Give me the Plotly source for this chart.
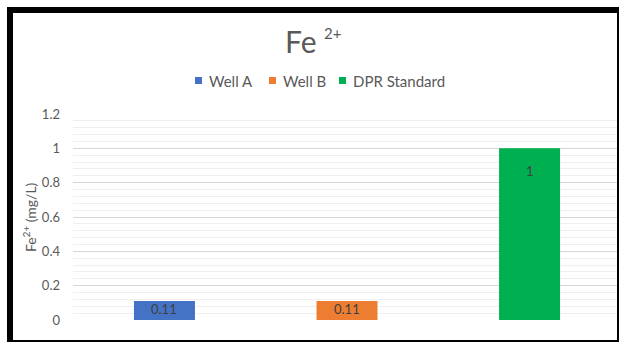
import plotly.graph_objects as go

# Fe2+ concentration per source
series = ["Well A", "Well B", "DPR Standard"]
values = [0.11, 0.11, 1]
colors = ["#4472C4", "#ED7D31", "#00B050"]
y_ticks = [0, 0.2, 0.4, 0.6, 0.8, 1, 1.2]
y_tick_text = ["0", "0.2", "0.4", "0.6", "0.8", "1", "1.2"]

FONT = "Lato, Calibri, Arial, sans-serif"
GREY = "#595959"

# plot-area geometry in pixels, used to place the decorations
W, H = 619, 342
L, R, T, B = 73, 2, 114, 22
PW, PH = W - L - R, H - T - B


def px_x(px):
    return (px - L) / PW


def px_y(py):
    return (H - B - py) / PH


fig = go.Figure()
for name, val, col in zip(series, values, colors):
    fig.add_trace(go.Bar(
        name=name,
        x=[name],
        y=[val],
        width=0.334,
        marker=dict(color=col, line=dict(width=0)),
        showlegend=False,
    ))
    # value label just inside the bar top
    fig.add_annotation(
        x=name, y=val, xref="x", yref="y",
        text=f"{val:g}", showarrow=False,
        yanchor="top", yshift=-13 if val > 0.5 else 2,
        font=dict(family=FONT, size=13, color="#404040"),
    )

fig.update_layout(
    width=W,
    height=H,
    margin=dict(l=L, r=R, t=T, b=B),
    paper_bgcolor="white",
    plot_bgcolor="white",
    barmode="overlay",
    showlegend=False,
    font=dict(family=FONT, color=GREY),
    xaxis=dict(
        range=[-0.501, 2.479],
        showticklabels=False,
        showgrid=False,
        zeroline=False,
        ticks="",
        fixedrange=True,
    ),
    yaxis=dict(
        range=[0, 1.2],
        tickvals=y_ticks,
        ticktext=y_tick_text,
        tickfont=dict(family=FONT, size=13, color=GREY),
        showgrid=True,
        gridcolor="#D6D6D6",
        gridwidth=1,
        minor=dict(dtick=0.04, showgrid=True, gridcolor="#EFEFEF", gridwidth=1),
        zeroline=False,
        ticks="",
        ticklabelstandoff=12,
    ),
)

# y-axis title
fig.add_annotation(text="Fe<sup>2+</sup> (mg/L)", xref="paper", yref="paper",
                   x=px_x(29), y=0.5, textangle=-90,
                   xanchor="center", yanchor="middle", showarrow=False,
                   font=dict(family=FONT, size=14, color=GREY))

# legend: small colour squares followed by series names
legend_sq_x = [195, 269, 339]
for name, col, sx in zip(series, colors, legend_sq_x):
    fig.add_shape(type="rect", xref="paper", yref="paper",
                  x0=px_x(sx), x1=px_x(sx + 7), y0=px_y(84), y1=px_y(77),
                  fillcolor=col, line=dict(width=0))
    fig.add_annotation(text=name, xref="paper", yref="paper",
                       x=px_x(sx + 12), y=px_y(81),
                       xanchor="left", yanchor="middle", showarrow=False,
                       font=dict(family=FONT, size=15, color=GREY))

# chart title: element symbol with superscript charge
fig.add_annotation(text="Fe", xref="paper", yref="paper",
                   x=px_x(301), y=px_y(41),
                   xanchor="center", yanchor="middle", showarrow=False,
                   font=dict(family=FONT, size=30, color=GREY))
fig.add_annotation(text="2+", xref="paper", yref="paper",
                   x=px_x(332), y=px_y(33),
                   xanchor="center", yanchor="middle", showarrow=False,
                   font=dict(family=FONT, size=15, color=GREY))

# black outer frame
fig.add_shape(type="rect", xref="paper", yref="paper",
              x0=px_x(10), x1=px_x(620), y0=px_y(343), y1=px_y(10),
              line=dict(color="black", width=6), fillcolor="rgba(0,0,0,0)",
              layer="above")

fig.write_html("out.html")
